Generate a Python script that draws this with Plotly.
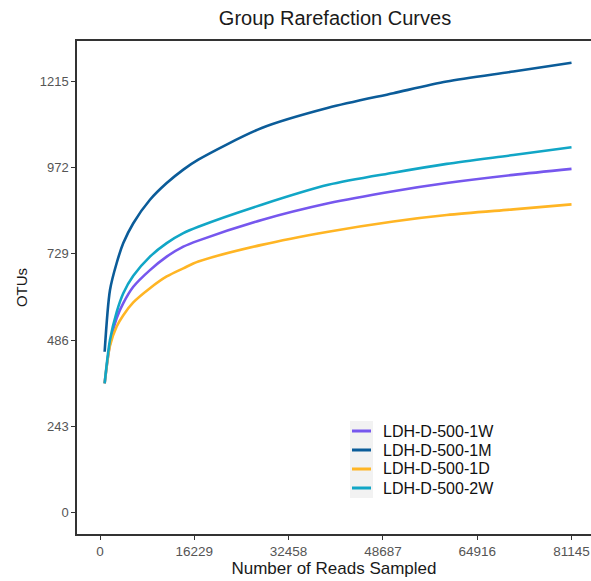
import plotly.graph_objects as go

# Data
reads = [800, 1720, 2870, 4010, 5730, 8600, 11480, 14340, 16920, 27830, 39290, 50480, 59670, 71130, 81145]
otu_1W = [364, 475, 548, 590, 636, 683, 721, 749, 766, 824, 871, 905, 928, 951, 968]
otu_1M = [453, 627, 703, 759, 815, 881, 928, 966, 994, 1083, 1140, 1181, 1214, 1242, 1267]
otu_1D = [364, 470, 524, 556, 592, 632, 665, 688, 707, 754, 791, 820, 838, 854, 868]
otu_2W = [364, 486, 565, 618, 667, 721, 759, 787, 805, 867, 923, 957, 982, 1007, 1029]

series_names = ["LDH-D-500-1W", "LDH-D-500-1M", "LDH-D-500-1D", "LDH-D-500-2W"]
series_values = [otu_1W, otu_1M, otu_1D, otu_2W]
series_colors = ["#7657EE", "#0B5C99", "#FFB524", "#11A6C6"]

x_ticks = [0, 16229, 32458, 48687, 64916, 81145]
y_ticks = [0, 243, 486, 729, 972, 1215]

font_family = "Liberation Sans, Arial, sans-serif"

fig = go.Figure()
for name, vals, col in zip(series_names, series_values, series_colors):
    fig.add_trace(go.Scatter(x=reads, y=vals, mode="lines", name=name, showlegend=False,
                             line=dict(color=col, width=2.6, shape="spline", smoothing=0.8)))

# Plot-area geometry (pixels) used for the hand-placed legend
L, R, T, B = 77, 591, 41, 534
def px_x(p):
    return (p - L) / (R - L)
def px_y(p):
    return (B - p) / (B - T)

shapes = [dict(type="rect", xref="paper", yref="paper",
               x0=px_x(350), x1=px_x(373), y0=px_y(498), y1=px_y(421),
               fillcolor="#F2F2F2", line=dict(width=0), layer="below")]
annotations = []
row_y = [431, 450, 469, 488]
for name, col, ry in zip(series_names, series_colors, row_y):
    shapes.append(dict(type="line", xref="paper", yref="paper",
                       x0=px_x(352), x1=px_x(371), y0=px_y(ry), y1=px_y(ry),
                       line=dict(color=col, width=3)))
    annotations.append(dict(text=name, xref="paper", yref="paper", x=px_x(382), y=px_y(ry),
                            xanchor="left", yanchor="middle", showarrow=False, borderpad=0,
                            font=dict(size=16, color="#111111", family=font_family)))

fig.update_layout(
    width=591, height=581,
    margin=dict(l=L, r=591 - R, t=T, b=581 - B),
    paper_bgcolor="white", plot_bgcolor="white",
    font=dict(family=font_family, color="#000000"),
    title=dict(text="Group Rarefaction Curves", x=335 / 591, xanchor="center",
               y=1 - 18 / 581, yanchor="middle", font=dict(size=20, color="#1a1a1a")),
    showlegend=False,
    shapes=shapes,
    annotations=annotations,
    xaxis=dict(range=[-3958, 84500], tickvals=x_ticks, ticktext=[str(v) for v in x_ticks],
               showgrid=False, zeroline=False, showline=True, linecolor="#333333",
               linewidth=1.5, mirror=True, ticks="outside", ticklen=4, tickcolor="#333333",
               tickfont=dict(size=13.5, color="#555555"),
               title=dict(text="Number of Reads Sampled", font=dict(size=17, color="#1a1a1a"),
                          standoff=3)),
    yaxis=dict(range=[-60, 1328], tickvals=y_ticks, ticktext=[str(v) for v in y_ticks],
               showgrid=False, zeroline=False, showline=True, linecolor="#333333",
               linewidth=1.5, mirror=False, ticks="outside", ticklen=4, tickcolor="#333333",
               tickfont=dict(size=13, color="#555555"),
               title=dict(text="OTUs", font=dict(size=15, color="#1a1a1a"), standoff=8)),
)

fig.write_html("out.html")
